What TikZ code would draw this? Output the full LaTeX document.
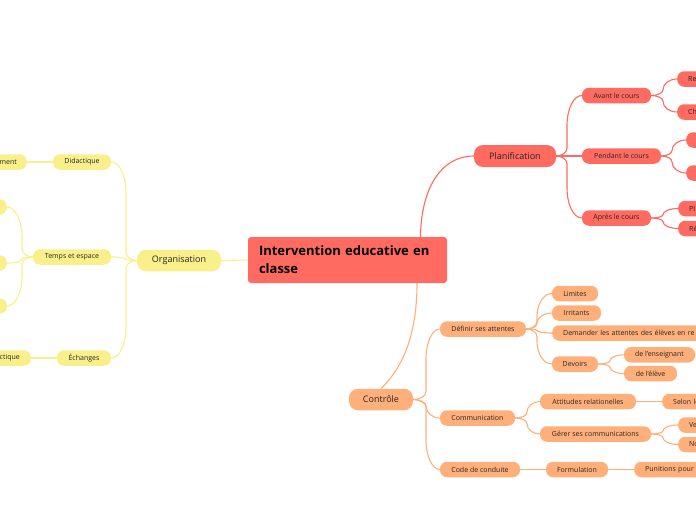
\documentclass[tikz,border=0pt]{standalone}
\usepackage{fontspec}
\setmainfont{Open Sans}
\usetikzlibrary{calc}
\definecolor{mmred}{HTML}{FF6A61}
\definecolor{mmorange}{HTML}{FFB07A}
\definecolor{mmyellow}{HTML}{F9F08B}
\definecolor{mmtext}{HTML}{262626}
\newcommand\mmlink[4]{%
  \draw[#1] let \p1=(#2), \p2=(#3), \p3=(#4,0),
    \n1={min(8pt,0.35*abs(\y2-\y1))*sign(\y2-\y1)},
    \n2={min(30pt,0.65*abs(\y2-\y1))*sign(\y2-\y1)} in
    (\p1) .. controls ({\x1+0.552*(\x3-\x1)},\y1) and (\x3,{\y1+0.448*\n1}) .. (\x3,{\y1+\n1})
    -- (\x3,{\y2-\n2}) .. controls (\x3,{\y2-0.448*\n2}) and ({\x2-0.552*(\x2-\x3)},\y2) .. (\p2);}
\begin{document}
\begin{tikzpicture}[x=1pt,y=-1pt,
  basebox/.style={text=mmtext, inner ysep=0pt, inner xsep=2pt, minimum height=15.5pt,
    rounded corners=7pt, font=\fontsize{7}{8}\selectfont},
  bigbox/.style={minimum height=21.5pt, rounded corners=9pt, font=\fontsize{9}{11}\selectfont},
  redbox/.style={basebox, fill=mmred},
  orbox/.style={basebox, fill=mmorange},
  yelbox/.style={basebox, fill=mmyellow},
  cutR/.style={anchor=west, text width=#1, align=left, inner xsep=11pt},
  cutL/.style={anchor=east, text width=#1, align=right, inner xsep=10pt},
  redline/.style={draw=mmred, line width=1.1pt},
  orline/.style={draw=mmorange, line width=1.1pt},
  yelline/.style={draw=mmyellow, line width=1.1pt}
]
\useasboundingbox (0,0) rectangle (696,520);
\clip (0,0) rectangle (696,520);
\fill[white] (0,0) rectangle (696,520);

% root
\node[fill=mmred, rounded corners=3pt, text width=177pt, inner xsep=11pt, inner ysep=0pt,
  minimum height=46pt, align=left, font=\fontsize{13}{18}\selectfont\bfseries, text=black]
  (root) at (347.5,260) {\mbox{Intervention educative en}\\classe};

% ---------- Organisation (yellow)
\node[yelbox, bigbox, minimum width=84pt] (org) at (179,260.5) {Organisation};
\node[yelbox, minimum width=58pt] (did) at (82,162) {Didactique};
\node[yelbox, minimum width=78pt] (temps) at (72,257) {Temps et espace};
\node[yelbox, minimum width=54pt] (ech) at (84,358) {Échanges};
\node[yelbox, cutL=50pt] (ment) at (27,162) {ment};
\node[yelbox, cutL=50pt, inner xsep=11pt] (ctique) at (31,358) {ctique};
\node[yelbox, anchor=east, minimum width=40pt] (t1) at (7,207) {};
\node[yelbox, anchor=east, minimum width=40pt] (t2) at (7,263) {};
\node[yelbox, anchor=east, minimum width=40pt] (t3) at (7,306) {};

% ---------- Planification (red)
\node[redbox, bigbox, minimum width=82pt, minimum height=22pt] (plan) at (515,156) {Planification};
\node[redbox, minimum width=69pt] (avant) at (616.5,95.5) {Avant le cours};
\node[redbox, minimum width=79pt] (pendant) at (621.5,156) {Pendant le cours};
\node[redbox, minimum width=69pt] (apres) at (616.5,218) {Après le cours};
\node[redbox, cutR=40pt] (re) at (677,79) {Re};
\node[redbox, cutR=40pt] (ch) at (677,112) {Ch};
\node[redbox, anchor=west, minimum width=40pt] (pa) at (686,140) {};
\node[redbox, anchor=west, minimum width=40pt] (pb) at (686,173) {};
\node[redbox, cutR=40pt] (pl) at (678,208.5) {Pl};
\node[redbox, cutR=40pt] (rr) at (678,228.5) {Ré};

% ---------- Controle (orange)
\node[orbox, bigbox, minimum width=64pt] (ctrl) at (381,399.5) {Contrôle};
\node[orbox, minimum width=86pt] (def) at (483,329) {Définir ses attentes};
\node[orbox, minimum width=75pt] (comm) at (477.5,418) {Communication};
\node[orbox, minimum width=80pt] (code) at (480,469.5) {Code de conduite};
\node[orbox, minimum width=46pt] (lim) at (575,293.5) {Limites};
\node[orbox, minimum width=49pt] (irr) at (576.5,313) {Irritants};
\node[orbox, cutR=200pt] (dem) at (552,333) {Demander les attentes des élèves en re};
\node[orbox, minimum width=46pt] (dev) at (575,364) {Devoirs};
\node[orbox, minimum width=71pt] (ens) at (659.5,354.8) {de l'enseignant};
\node[orbox, minimum width=53pt] (elv) at (650.5,373.5) {de l'élève};
\node[orbox, minimum width=96pt] (att) at (588,401.5) {Attitudes relationelles};
\node[orbox, minimum width=111pt] (ger) at (595.5,434) {Gérer ses communications};
\node[orbox, cutR=60pt] (selon) at (662,401.5) {Selon le};
\node[orbox, cutR=40pt] (ve) at (678,425) {Ve};
\node[orbox, cutR=40pt] (no) at (678,444.5) {No};
\node[orbox, minimum width=62pt] (form) at (577,469.5) {Formulation};
\node[orbox, cutR=80pt] (pun) at (634,469.5) {Punitions pour};

% ---------- connectors
\draw[yelline] (root.west) -- (org.east);
\mmlink{yelline}{org.west}{did.east}{126}
\mmlink{yelline}{org.west}{temps.east}{126}
\mmlink{yelline}{org.west}{ech.east}{126}
\draw[yelline] (did.west) -- (ment.east);
\draw[yelline] (ech.west) -- (ctique.east);
\mmlink{yelline}{temps.west}{t1.east}{22}
\mmlink{yelline}{temps.west}{t2.east}{22}
\mmlink{yelline}{temps.west}{t3.east}{22}

\draw[redline] ([xshift=73pt]root.north) .. controls (421,190) and (440,156) .. (plan.west);
\mmlink{redline}{plan.east}{avant.west}{567}
\mmlink{redline}{plan.east}{pendant.west}{567}
\mmlink{redline}{plan.east}{apres.west}{567}
\mmlink{redline}{avant.east}{re.west}{663}
\mmlink{redline}{avant.east}{ch.west}{663}
\mmlink{redline}{pendant.east}{pa.west}{672}
\mmlink{redline}{pendant.east}{pb.west}{672}
\mmlink{redline}{apres.east}{pl.west}{663}
\mmlink{redline}{apres.east}{rr.west}{663}

\draw[orline] ([xshift=69.5pt]root.south) .. controls (417,340) and (400,370) .. (ctrl.north);
\mmlink{orline}{ctrl.east}{def.west}{426}
\mmlink{orline}{ctrl.east}{comm.west}{426}
\mmlink{orline}{ctrl.east}{code.west}{426}
\mmlink{orline}{def.east}{lim.west}{537}
\mmlink{orline}{def.east}{irr.west}{537}
\mmlink{orline}{def.east}{dem.west}{537}
\mmlink{orline}{def.east}{dev.west}{537}
\mmlink{orline}{dev.east}{ens.west}{610}
\mmlink{orline}{dev.east}{elv.west}{610}
\mmlink{orline}{comm.east}{att.west}{527}
\mmlink{orline}{comm.east}{ger.west}{527}
\draw[orline] (att.east) -- (selon.west);
\mmlink{orline}{ger.east}{ve.west}{663}
\mmlink{orline}{ger.east}{no.west}{663}
\draw[orline] (code.east) -- (form.west);
\draw[orline] (form.east) -- (pun.west);
\end{tikzpicture}
\end{document}
